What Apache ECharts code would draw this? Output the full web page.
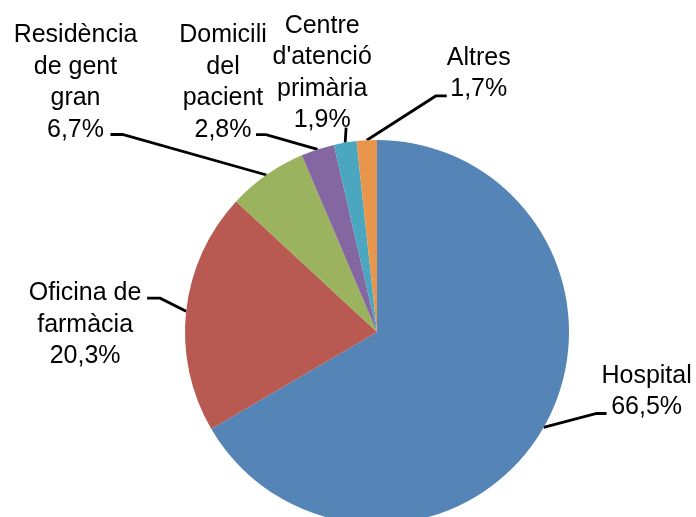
<!DOCTYPE html>
<html>
<head>
<meta charset="utf-8">
<script src="https://cdn.jsdelivr.net/npm/echarts@6/dist/echarts.min.js"></script>
<style>
  html, body { margin: 0; padding: 0; background: #ffffff; }
  #chart { width: 696px; height: 517px; }
</style>
</head>
<body>
<div id="chart"></div>
<script>
// ---- Data ----
var categories = [
  'Hospital',
  'Oficina de\nfarmàcia',
  'Residència\nde gent\ngran',
  'Domicili\ndel\npacient',
  "Centre\nd'atenció\nprimària",
  'Altres'
];
var values = [66.5, 20.3, 6.7, 2.8, 1.9, 1.7];
var colors = ['#5584b6', '#b85a52', '#9bb35e', '#8466a0', '#4ba7c0', '#e9964d'];

// ---- Label placement (offsets from the slice's edge anchor) ----
// label: centre of text block; p1: elbow; p2: end next to label
var placement = [
  { label: [103, -36],    p1: [53, -14],     p2: [63, -14] },
  { label: [-101, 13.5],  p1: [-26, -13],    p2: [-39, -13] },
  { label: [-191, -92.5], p1: [-144, -40.5], p2: [-156, -40.5] },
  { label: [-94.6, -66.8],p1: [-51.6, -14.8],p2: [-61.6, -14.8] },
  { label: [-23, -69.5],  p1: [1, -15],      p2: [1, -15] },
  { label: [112, -66.8],  p1: [69, -44.3],   p2: [80, -44.3] }
];

var chart = echarts.init(document.getElementById('chart'), null, { renderer: 'canvas' });

var data = categories.map(function (name, i) {
  return { name: name, value: values[i], itemStyle: { color: colors[i] } };
});

chart.setOption({
  animation: false,
  backgroundColor: '#ffffff',
  series: [{
    type: 'pie',
    center: [377, 332],
    radius: 192,
    startAngle: 90,
    clockwise: true,
    avoidLabelOverlap: false,
    data: data,
    itemStyle: { borderWidth: 0 },
    label: {
      show: true,
      position: 'outside',
      fontFamily: 'Liberation Sans, Arial, sans-serif',
      fontSize: 25,
      lineHeight: 31.5,
      color: '#000000',
      align: 'center',
      formatter: function (p) {
        return p.name + '\n' + p.value.toFixed(1).replace('.', ',') + '%';
      }
    },
    labelLine: {
      show: true,
      length: 20,
      length2: 10,
      lineStyle: { color: '#000000', width: 2.8 }
    },
    labelLayout: function (params) {
      var pl = placement[params.dataIndex];
      var pts = params.labelLinePoints;
      if (!pl || !pts) return {};
      var p0 = pts[0];
      return {
        x: p0[0] + pl.label[0],
        y: p0[1] + pl.label[1],
        align: 'center',
        verticalAlign: 'middle',
        labelLinePoints: [
          [p0[0], p0[1]],
          [p0[0] + pl.p1[0], p0[1] + pl.p1[1]],
          [p0[0] + pl.p2[0], p0[1] + pl.p2[1]]
        ]
      };
    }
  }]
});
</script>
</body>
</html>
